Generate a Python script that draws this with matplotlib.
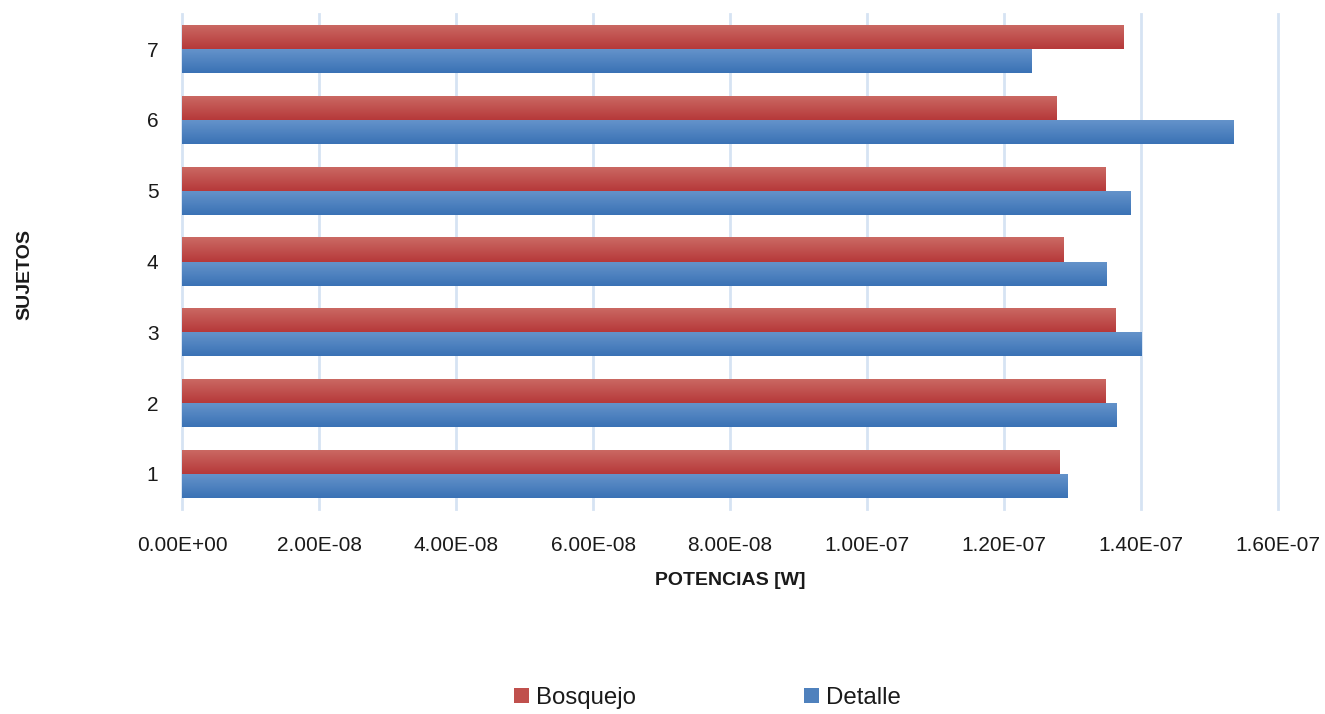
import numpy as np
import matplotlib
matplotlib.use("Agg")
import matplotlib.pyplot as plt
from matplotlib.colors import LinearSegmentedColormap
from matplotlib.patches import Patch
from matplotlib.ticker import FuncFormatter

plt.rcParams['font.family'] = ['Liberation Sans', 'DejaVu Sans']

sujetos = [1, 2, 3, 4, 5, 6, 7]
bosquejo = [1.281e-7, 1.348e-7, 1.363e-7, 1.287e-7, 1.348e-7, 1.277e-7, 1.374e-7]
detalle = [1.293e-7, 1.364e-7, 1.401e-7, 1.350e-7, 1.385e-7, 1.535e-7, 1.240e-7]

# top -> bottom gradient colours for each series
rojo = ('#CB6A64', '#B6393A')
azul = ('#6694CB', '#3A72B5')


def pintar_gradiente(ax, barras, colores):
    cmap = LinearSegmentedColormap.from_list('g', [colores[1], colores[0]])
    grad = np.linspace(0, 1, 64).reshape(-1, 1)
    for b in barras:
        x0, y0, w, h = b.get_x(), b.get_y(), b.get_width(), b.get_height()
        img = ax.imshow(grad, cmap=cmap, aspect='auto', origin='lower',
                        extent=(x0, x0 + w, y0, y0 + h), zorder=3)
        img.set_clip_path(b)


fig = plt.figure(figsize=(13.25, 7.14), dpi=100)
ax = fig.add_axes([0.1374, 0.2866, 0.8272, 0.6943])

y = np.array(sujetos, dtype=float)
alto = 0.34
b_bos = ax.barh(y + alto / 2, bosquejo, height=alto, color=rojo[1], zorder=2)
b_det = ax.barh(y - alto / 2, detalle, height=alto, color=azul[1], zorder=2)
pintar_gradiente(ax, b_bos, rojo)
pintar_gradiente(ax, b_det, azul)

ax.set_xlim(0, 1.6e-7)
ax.set_ylim(0.5, 7.5)
ax.set_xticks(np.arange(0, 1.61e-7, 2e-8))
ax.xaxis.set_major_formatter(FuncFormatter(lambda v, p: f'{v:.2E}'))
ax.set_yticks(sujetos)
ax.tick_params(length=0, labelsize=15, colors='#1A1A1A')
ax.tick_params(axis='y', pad=17)
ax.tick_params(axis='x', pad=19.5)
ax.grid(axis='x', color='#D6E3F3', linewidth=2, zorder=0)
for linea in ax.get_xgridlines():
    linea.set_clip_on(False)
ax.set_axisbelow(True)
for s in ax.spines.values():
    s.set_visible(False)

ax.set_xlabel('POTENCIAS [W]', fontsize=14, fontweight='bold', color='#1A1A1A', labelpad=12)
fig.text(0.019, 0.615, 'SUJETOS', rotation=90, fontsize=14, fontweight='bold',
         color='#1A1A1A', ha='center', va='center')

handles = [Patch(facecolor='#C0504D'), Patch(facecolor='#4F81BD')]
fig.legend(handles, ['Bosquejo', 'Detalle'], loc='center', bbox_to_anchor=(0.534, 0.022),
           ncol=2, frameon=False, fontsize=17.3, handlelength=0.6, handleheight=0.6,
           handletextpad=0.3, columnspacing=7.0, labelcolor='#1A1A1A')

fig.savefig('out.png', dpi=100)
